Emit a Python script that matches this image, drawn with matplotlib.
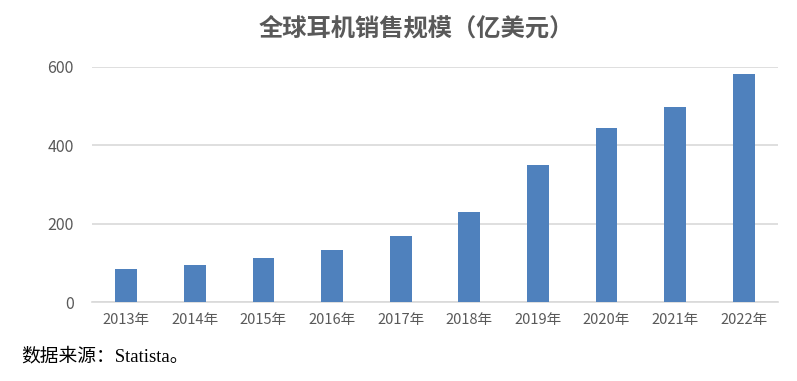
import matplotlib.pyplot as plt

plt.rcParams['font.family'] = ['Noto Sans CJK SC', 'DejaVu Sans']

years = ['2013年', '2014年', '2015年', '2016年', '2017年',
         '2018年', '2019年', '2020年', '2021年', '2022年']
sales = [85, 94, 112, 133, 168, 229, 350, 445, 498, 581]
yticks = [0, 200, 400, 600]

fig = plt.figure(figsize=(7.97, 3.81), dpi=100)
ax = fig.add_axes([0.1154, 0.2066, 0.8608, 0.6184])

ax.bar(range(len(years)), sales, width=0.32, color='#4F81BD', zorder=3)
ax.set_xlim(-0.5, len(years) - 0.5)
ax.set_ylim(0, 600)
ax.set_yticks(yticks)
ax.set_xticks(range(len(years)))
ax.set_xticklabels(years)
ax.grid(axis='y', color='#D9D9D9', linewidth=1.2, zorder=0)
for s in ['top', 'right', 'left']:
    ax.spines[s].set_visible(False)
ax.spines['bottom'].set_color('#D9D9D9')
ax.spines['bottom'].set_linewidth(1.2)
ax.tick_params(axis='both', length=0, labelcolor='#595959')
ax.tick_params(axis='x', pad=8, labelsize=10.5)
ax.tick_params(axis='y', pad=13, labelsize=11.5)

fig.text(0.522, 0.925, '全球耳机销售规模（亿美元）', ha='center', va='center',
         fontsize=17.5, fontweight='bold', color='#595959')
fig.text(0.027, 0.063, '数据来源：Statista。', ha='left', va='center',
         fontsize=13.5, color='black', family=['Liberation Serif', 'Noto Sans CJK SC'])

fig.savefig('out.png', dpi=100)
